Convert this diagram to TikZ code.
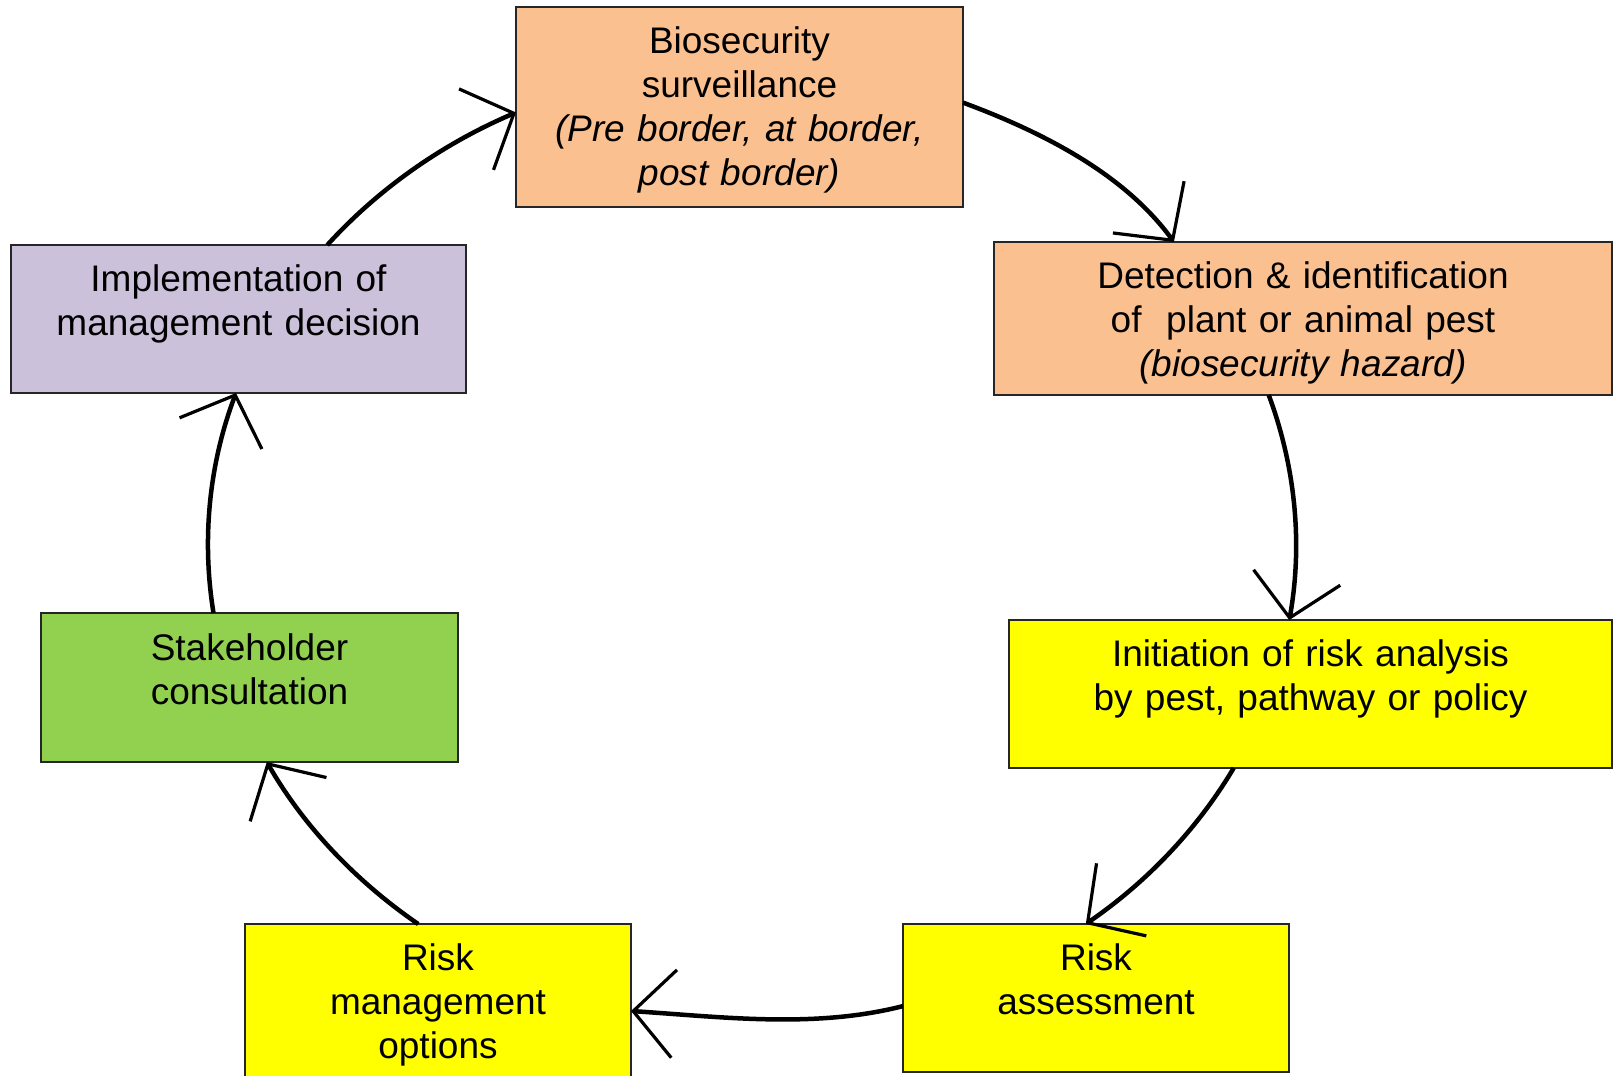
\documentclass[tikz,border=0pt]{standalone}
\usepackage{fontspec}
\setmainfont{Liberation Sans}
\usetikzlibrary{arrows.meta}
\definecolor{orangebox}{HTML}{FAC090}
\definecolor{purplebox}{HTML}{CCC1DA}
\definecolor{greenbox}{HTML}{92D050}
\definecolor{yellowbox}{HTML}{FFFF00}
\begin{document}
\begin{tikzpicture}[x=1pt,y=-1pt,
  box/.style={draw=black!85, line width=1.8pt, rectangle, inner sep=0pt, outer sep=0pt, anchor=north west},
  txt/.style={font=\fontsize{37}{44}\selectfont, align=center, inner sep=0pt, anchor=base},
  link/.style={line width=4.5pt, -{Straight Barb[length=41pt, width=88pt, line width=3.2pt]}}]
\useasboundingbox (0,0) rectangle (1614,1076);
% boxes
\node[box, fill=orangebox, minimum width=447pt, minimum height=200pt] (surv) at (516,7) {};
\node[box, fill=orangebox, minimum width=618pt, minimum height=153pt] (det) at (994,242) {};
\node[box, fill=yellowbox, minimum width=603pt, minimum height=148pt] (init) at (1009,620) {};
\node[box, fill=yellowbox, minimum width=386pt, minimum height=148pt] (ra) at (903,924) {};
\node[box, fill=yellowbox, minimum width=386pt, minimum height=160pt] (rm) at (245,924) {};
\node[box, fill=greenbox, minimum width=417pt, minimum height=149pt] (sh) at (41,613) {};
\node[box, fill=purplebox, minimum width=455pt, minimum height=148pt] (im) at (11,245) {};
% texts
\node[txt, text width=437pt] (survT) at (739.5,53) {Biosecurity\\surveillance\\\textit{(Pre border, at border,}\\\textit{post border)}};
\node[txt, text width=608pt] (detT) at (1303,288) {Detection \& identification\\of\ \ plant or animal pest\\\textit{(biosecurity hazard)}};
\node[txt, text width=593pt] (initT) at (1310.5,666) {Initiation of risk analysis\\by pest, pathway or policy};
\node[txt, text width=376pt] (raT) at (1096,970) {Risk\\assessment};
\node[txt, text width=376pt] (rmT) at (438,970) {Risk\\management\\options};
\node[txt, text width=407pt] (shT) at (249.5,660) {Stakeholder\\consultation};
\node[txt, text width=445pt] (imT) at (238.5,291) {Implementation of\\management decision};
% connectors (arcs of one ellipse)
\draw[link] (surv.east |- 0,102.6) .. controls (1045.2,133.1) and (1125.1,174.9) .. (det.north -| 1173.9,0);
\draw[link] (det.south -| 1268.7,0) .. controls (1295.7,467.5) and (1302.8,544.6) .. (init.north -| 1289.3,0);
\draw[link] (init.south -| 1233.7,0) .. controls (1197.6,828.7) and (1147.2,881.9) .. (ra.north -| 1085.8,0);
\draw[link] (ra.west |- 0,1006.1) .. controls (814.4,1028.7) and (723,1017) .. (rm.east |- 0,1011);
\draw[link] (rm.north -| 418.2,0) .. controls (354.8,880.5) and (303.1,825.2) .. (sh.south -| 266.8,0);
\draw[link] (sh.north -| 213.5,0) .. controls (201.5,539.1) and (209.2,463.8) .. (im.south -| 236,0);
\draw[link] (im.north -| 327.3,0) .. controls (378.2,188.9) and (442.7,143.7) .. (surv.west |- 0,112.5);
\end{tikzpicture}
\end{document}
